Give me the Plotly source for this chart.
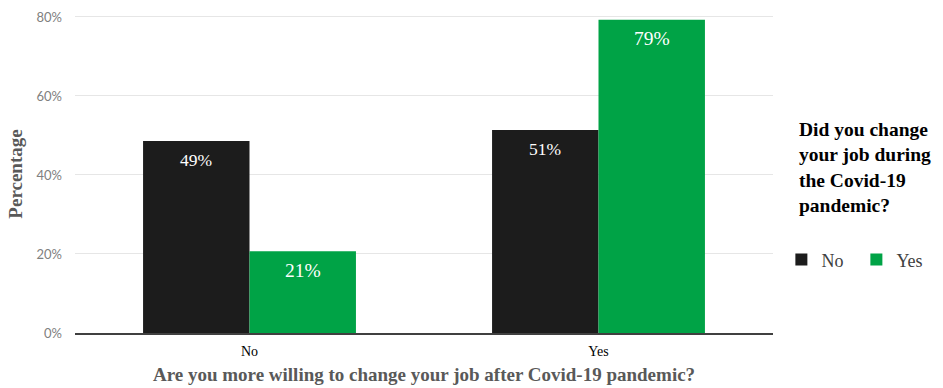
import plotly.graph_objects as go

categories = ["No", "Yes"]
changed_no = [48.6, 51.4]
changed_yes = [20.7, 79.3]
series_names = ["No", "Yes"]
y_ticks = [0, 20, 40, 60, 80]
y_tick_labels = ["0%", "20%", "40%", "60%", "80%"]

SERIF = "Liberation Serif, Times New Roman, serif"
colors = ["#1c1c1c", "#00a346"]
label_sizes = [17.5, 19.5]
BARGAP = 0.39

fig = go.Figure()
annots = []
series = [changed_no, changed_yes]
for j, (name, vals, col, ls) in enumerate(zip(series_names, series, colors, label_sizes)):
    fig.add_trace(go.Bar(
        x=categories, y=vals, name=name,
        marker=dict(color=col, line=dict(width=0)),
    ))
    for i, v in enumerate(vals):
        annots.append(dict(
            x=i + (j - 0.5) * (1 - BARGAP) / 2, y=v, xref="x", yref="y",
            text=f"{round(v)}%", showarrow=False, yanchor="middle", yshift=-19,
            font=dict(family=SERIF, size=ls, color="white"),
        ))

annots.append(dict(
    text="<b>Did you change<br>your job during<br>the Covid-19<br>pandemic?</b>",
    xref="paper", yref="paper", x=1.034, y=0.52, xanchor="left", yanchor="middle",
    align="left", showarrow=False,
    font=dict(family=SERIF, size=19.5, color="#000000"),
))

fig.update_layout(
    width=943, height=388,
    margin=dict(l=75, r=170, t=15, b=55, autoexpand=False),
    paper_bgcolor="white", plot_bgcolor="white",
    barmode="group", bargap=BARGAP, bargroupgap=0,
    showlegend=True,
    legend=dict(orientation="h", x=1.012, xanchor="left", y=0.23, yanchor="middle",
                font=dict(family=SERIF, size=18, color="#404040"),
                itemwidth=30, entrywidth=30, traceorder="normal"),
    xaxis=dict(
        type="category", automargin=False,
        tickfont=dict(family=SERIF, size=14, color="#000000"),
        showline=True, linecolor="#404040", linewidth=1.5,
        ticks="", showgrid=False, ticklabelstandoff=4,
        title=dict(text="<b>Are you more willing to change your job after Covid-19 pandemic?</b>",
                   font=dict(family=SERIF, size=19, color="#595959"), standoff=10),
    ),
    yaxis=dict(
        range=[0, 80.5], tickvals=y_ticks, ticktext=y_tick_labels, automargin=False,
        tickfont=dict(family="Lato, sans-serif", size=13, color="#808080"),
        showgrid=True, gridcolor="#e6e6e6", gridwidth=1, zeroline=False,
        ticks="", ticklabelstandoff=12,
        title=dict(text="<b>Percentage</b>", font=dict(family=SERIF, size=19, color="#595959"),
                   standoff=8),
    ),
    annotations=annots,
)

fig.write_html("out.html", config={"displayModeBar": False},
               post_script="document.body.style.margin='0';")
